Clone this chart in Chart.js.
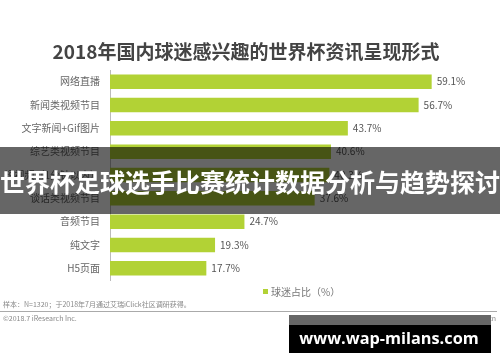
<!DOCTYPE html>
<html>
<head>
<meta charset="utf-8">
<script src="https://cdn.jsdelivr.net/npm/chart.js@4"></script>
<style>
  html, body { margin: 0; padding: 0; background: #fff; }
  #wrap { position: relative; width: 500px; height: 362px; }
</style>
</head>
<body>
<div id="wrap"><canvas id="worldCupChart" width="500" height="362"></canvas></div>
<script>
// 데이터
const categories = ['网络直播', '新闻类视频节目', '文字新闻+Gif图片', '综艺类视频节目', '短视频（1分钟以内）', '谈话类视频节目', '音频节目', '纯文字', 'H5页面'];
const fanShare = [59.1, 56.7, 43.7, 40.6, 40.3, 37.6, 24.7, 19.3, 17.7];
const seriesName = '球迷占比（%）';
const chartTitle = '2018年国内球迷感兴趣的世界杯资讯呈现形式';
const sourceNote = '样本：N=1320；于2018年7月通过艾瑞iClick社区调研获得。';
const copyrightNote = '©2018.7 iResearch Inc.';
const siteNote = 'www.iresearch.com.cn';
const bannerText = '世界杯足球选手比赛统计数据分析与趋势探讨';
const watermarkText = 'www.wap-milans.com';

const FONT = '"Noto Sans CJK SC", "Noto Sans", sans-serif';
const GREEN = '#b2d235';

// 막대 끝 값 표시 + 제목/주석/범례/배너
const decorPlugin = {
    id: 'decor',
    afterDatasetsDraw(chart) {
        const ctx = chart.ctx;
        const meta = chart.getDatasetMeta(0);
        ctx.save();
        ctx.font = '10px ' + FONT;
        ctx.fillStyle = '#555';
        ctx.textAlign = 'left';
        ctx.textBaseline = 'middle';
        meta.data.forEach((bar, i) => {
            ctx.fillText(fanShare[i].toFixed(1) + '%', bar.x + 5, bar.y);
        });
        ctx.restore();
    },
    afterDraw(chart) {
        const ctx = chart.ctx;
        ctx.save();
        // 제목
        ctx.font = 'bold 19px ' + FONT;
        ctx.fillStyle = '#444';
        ctx.textAlign = 'center';
        ctx.textBaseline = 'middle';
        ctx.fillText(chartTitle, 246, 52);

        // 범례
        ctx.fillStyle = GREEN;
        ctx.fillRect(263, 289, 5, 5);
        ctx.font = '10px ' + FONT;
        ctx.fillStyle = '#777';
        ctx.textAlign = 'left';
        ctx.fillText(chart.data.datasets[0].label, 271, 292);

        // 주석
        ctx.font = '7px ' + FONT;
        ctx.fillStyle = '#888';
        ctx.fillText(sourceNote, 3, 304);
        ctx.fillText(copyrightNote, 3, 318);
        ctx.textAlign = 'right';
        ctx.fillText(siteNote, 496, 318);
        ctx.strokeStyle = '#aaa';
        ctx.lineWidth = 1;
        ctx.beginPath();
        ctx.moveTo(0, 311.5);
        ctx.lineTo(497, 311.5);
        ctx.stroke();

        // 배너
        ctx.fillStyle = 'rgba(0,0,0,0.6)';
        ctx.fillRect(0, 147, 500, 67);
        ctx.font = 'bold 25px ' + FONT;
        ctx.fillStyle = '#fff';
        ctx.textAlign = 'center';
        ctx.fillText(bannerText, 250, 182);

        // 워터마크 (폭 180px 에 맞춤)
        ctx.fillStyle = '#666';
        ctx.fillRect(289, 315, 202, 10);
        ctx.fillStyle = '#000';
        ctx.fillRect(289, 325, 202, 28);
        let size = 20;
        ctx.font = 'bold ' + size + 'px "Open Sans", sans-serif';
        const w = ctx.measureText(watermarkText).width;
        size = size * 180 / w;
        ctx.font = 'bold ' + size.toFixed(1) + 'px "Open Sans", sans-serif';
        ctx.fillStyle = '#fff';
        ctx.fillText(watermarkText, 389, 339);
        ctx.restore();
    }
};

const ctx = document.getElementById('worldCupChart').getContext('2d');
window.worldCupChart = new Chart(ctx, {
    type: 'bar',
    data: {
        labels: categories,
        datasets: [{
            label: seriesName,
            data: fanShare,
            backgroundColor: GREEN,
            barPercentage: 0.62,
            categoryPercentage: 1.0,
        }]
    },
    options: {
        indexAxis: 'y',
        responsive: false,
        animation: false,
        layout: {
            padding: { top: 70, bottom: 82, left: 0, right: 9 }
        },
        plugins: {
            legend: { display: false },
            tooltip: { enabled: false }
        },
        scales: {
            x: {
                display: false,
                min: 0,
                max: 70
            },
            y: {
                afterFit(scale) { scale.width = 110; },
                grid: { display: false, drawTicks: false },
                border: { display: true, color: '#bbb', width: 1 },
                ticks: {
                    color: '#666',
                    padding: 10,
                    font: { size: 10, family: FONT }
                }
            }
        }
    },
    plugins: [decorPlugin]
});
</script>
</body>
</html>
